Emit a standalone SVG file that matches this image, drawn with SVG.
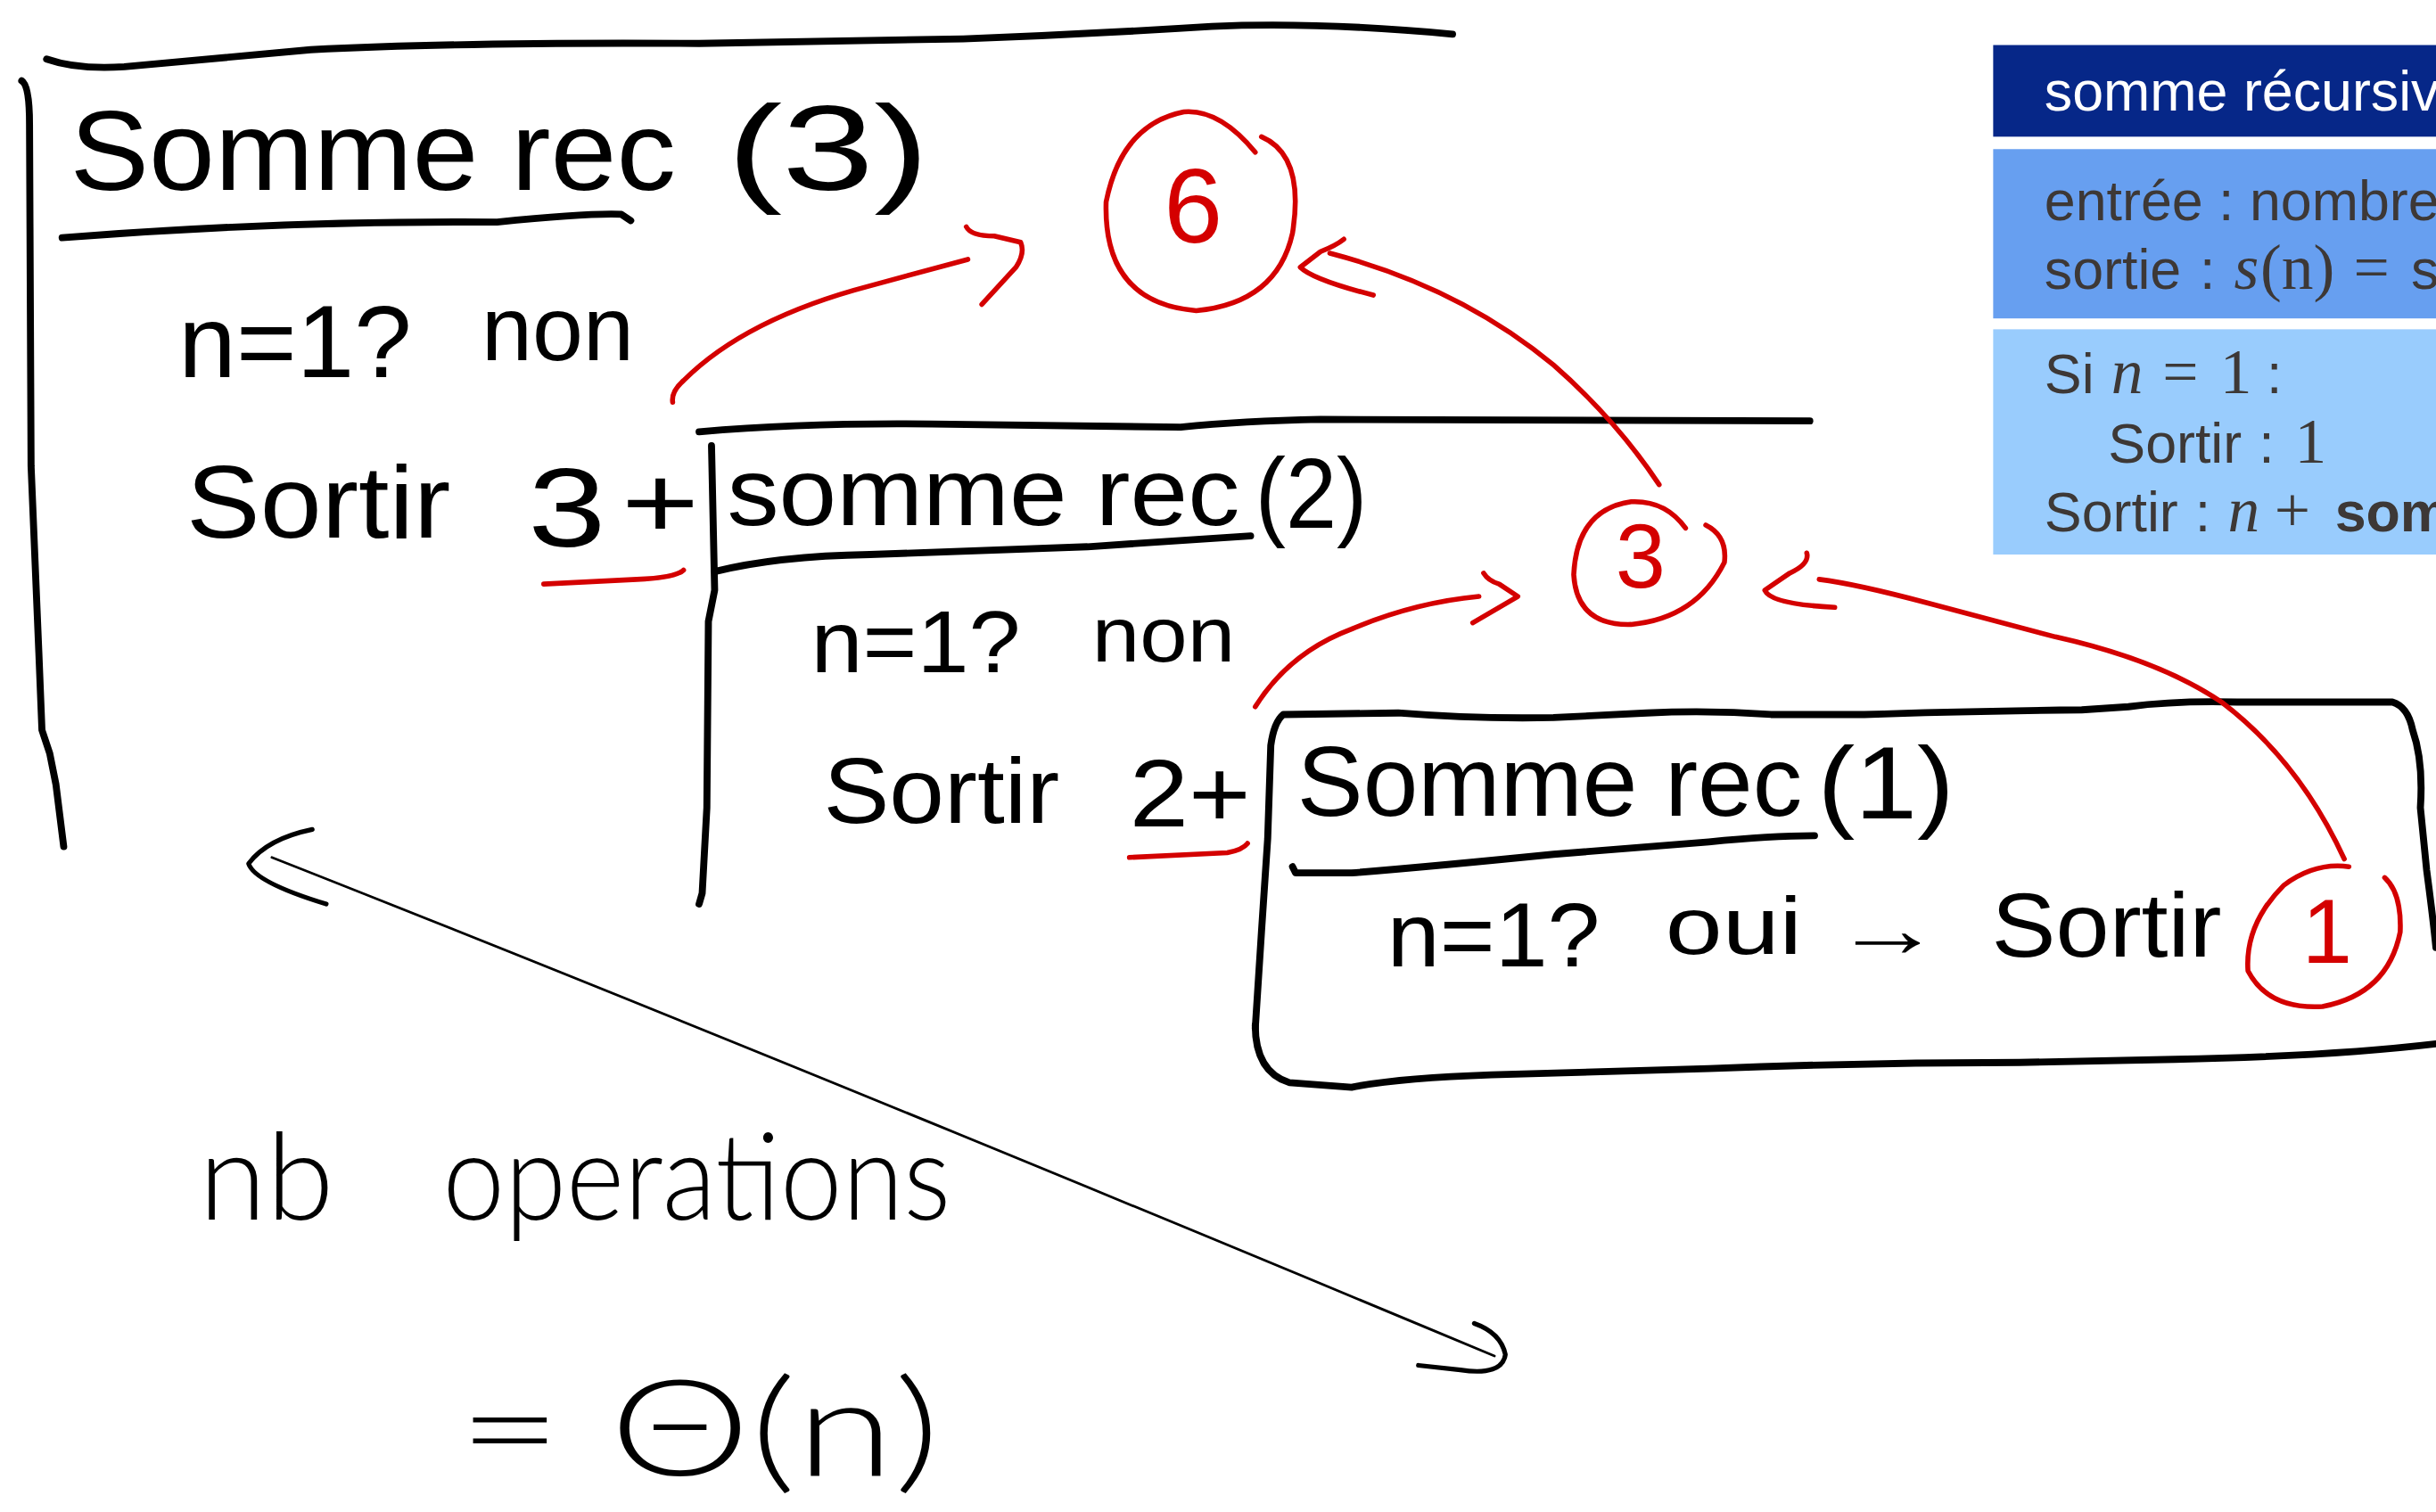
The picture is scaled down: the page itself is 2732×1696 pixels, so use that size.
<svg xmlns="http://www.w3.org/2000/svg" width="2732" height="1696" viewBox="0 0 2732 1696">
<style>
.ink{fill:none;stroke:#000;stroke-width:4.5;stroke-linecap:round;stroke-linejoin:round}
.red{fill:none;stroke:#D40000;stroke-width:3.2;stroke-linecap:round;stroke-linejoin:round}
.thin{fill:none;stroke:#000;stroke-width:1.4;stroke-linecap:round;stroke-linejoin:round}
.hw{font-family:"Liberation Sans","DejaVu Sans",sans-serif;fill:#000}
.hwl{font-family:"Lato","Open Sans",sans-serif;font-weight:300;fill:#000}
.hwr{font-family:"Liberation Sans","DejaVu Sans",sans-serif;fill:#D40000;text-anchor:middle}
.pt{font-family:"Liberation Sans",Arial,sans-serif;font-size:36px;fill:#3D3836}
.mi{font-family:"Liberation Serif","Times New Roman",serif;font-style:italic;font-size:41px}
.mr{font-family:"Liberation Serif","Times New Roman",serif;font-size:41px}
</style>
<rect width="2732" height="1696" fill="#fff"/>
<g transform="scale(1.7423)">
  <!-- right slide panel -->
  <g id="panel">
    <rect x="1283" y="29" width="300" height="59" fill="#062788"/>
    <text x="1316" y="71" class="pt" style="fill:#fff">somme récursiv</text>
    <rect x="1283" y="96" width="300" height="109" fill="#679FF0"/>
    <text x="1316" y="142" class="pt">entrée : nombre</text>
    <text y="186" class="pt"><tspan x="1316">sortie</tspan><tspan x="1416">:</tspan><tspan x="1438" class="mi">s</tspan><tspan x="1455" class="mr">(n)</tspan><tspan x="1515" class="mr">=</tspan><tspan x="1552">s</tspan></text>
    <rect x="1283" y="212" width="300" height="145" fill="#99CCFD"/>
    <text y="253" class="pt"><tspan x="1316">Si</tspan><tspan x="1359" class="mi">n</tspan><tspan x="1392" class="mr">=</tspan><tspan x="1429" class="mr">1</tspan><tspan x="1459">:</tspan></text>
    <text y="298" class="pt"><tspan x="1357">Sortir</tspan><tspan x="1454">:</tspan><tspan x="1477" class="mr">1</tspan></text>
    <text y="342" class="pt"><tspan x="1316">Sortir</tspan><tspan x="1413">:</tspan><tspan x="1434" class="mi">n</tspan><tspan x="1464" class="mr">+</tspan><tspan x="1503" font-weight="bold">som</tspan></text>
  </g>

  <!-- frame for somme rec(3) -->
  <g id="frame1">
    <path class="ink" d="M30,38 Q50,45 80,43 L200,32 Q300,27 450,28 L620,25 Q700,22 780,17 Q850,14 935,22"/>
    <path class="ink" d="M14,52 Q19,55 19,80 L20,300 L25,420 L27,470 L32,485 L36,505 L41,545"/>
    <path class="ink" d="M40,153 Q180,142 320,143 Q380,137 400,138 L406,142"/>
    <text class="hw" x="45" y="122" font-size="72" textLength="390" lengthAdjust="spacingAndGlyphs">Somme rec</text>
    <text class="hw" x="468" y="122" font-size="78" textLength="130" lengthAdjust="spacingAndGlyphs">(3)</text>
    <text class="hw" x="115" y="243" font-size="66" textLength="150" lengthAdjust="spacingAndGlyphs">n=1?</text>
    <text class="hw" x="310" y="232" font-size="58" textLength="98" lengthAdjust="spacingAndGlyphs">non</text>
    <text class="hw" x="120" y="346" font-size="66" textLength="170" lengthAdjust="spacingAndGlyphs">Sortir</text>
    <text class="hw" x="340" y="352" font-size="72" textLength="50" lengthAdjust="spacingAndGlyphs">3</text>
    <text class="hw" x="400" y="346" font-size="66" textLength="50" lengthAdjust="spacingAndGlyphs">+</text>
  </g>

  <!-- frame for somme rec(2) -->
  <g id="frame2">
    <path class="ink" d="M450,278 Q520,272 600,273 L760,275 Q800,271 850,270 L1165,271"/>
    <path class="ink" d="M458,287 L460,380 L456,400 L455,520 L452,575 L450,582"/>
    <path class="ink" d="M460,368 Q500,358 560,357 L700,352 L805,345"/>
    <text class="hw" x="468" y="338" font-size="62" textLength="330" lengthAdjust="spacingAndGlyphs">somme rec</text>
    <text class="hw" x="808" y="340" font-size="64" textLength="72" lengthAdjust="spacingAndGlyphs">(2)</text>
    <text class="hw" x="522" y="433" font-size="56" textLength="135" lengthAdjust="spacingAndGlyphs">n=1?</text>
    <text class="hw" x="703" y="426" font-size="50" textLength="92" lengthAdjust="spacingAndGlyphs">non</text>
    <text class="hw" x="530" y="530" font-size="60" textLength="152" lengthAdjust="spacingAndGlyphs">Sortir</text>
    <text class="hw" x="727" y="532" font-size="62" textLength="78" lengthAdjust="spacingAndGlyphs">2+</text>
  </g>

  <!-- frame for somme rec(1) -->
  <g id="frame3">
    <path class="ink" d="M808,662 L812,600 L816,540 L818,480 Q820,465 826,460 L900,459 Q950,463 1000,462 L1060,459 Q1100,457 1140,460 L1200,460 Q1260,458 1340,457 L1370,455 Q1400,451 1440,452 L1540,452 Q1550,455 1553,470 Q1560,490 1558,520 L1562,560 Q1566,590 1568,610"/>
    <path class="ink" d="M808,660 Q808,690 830,697 L870,700 Q900,694 960,692 L1100,688 Q1200,684 1300,684 L1400,682 Q1500,680 1568,672"/>
    <path class="ink" d="M832,558 L834,562 L870,562 Q920,558 1000,550 L1100,542 Q1140,538 1168,538"/>
    <text class="hw" x="835" y="525" font-size="64" textLength="325" lengthAdjust="spacingAndGlyphs">Somme rec</text>
    <text class="hw" x="1170" y="527" font-size="66" textLength="88" lengthAdjust="spacingAndGlyphs">(1)</text>
    <text class="hw" x="893" y="622" font-size="58" textLength="137" lengthAdjust="spacingAndGlyphs">n=1?</text>
    <text class="hw" x="1072" y="614" font-size="52" textLength="88" lengthAdjust="spacingAndGlyphs">oui</text>
    <text class="hw" x="1180" y="616" font-size="52" textLength="70" lengthAdjust="spacingAndGlyphs">→</text>
    <text class="hw" x="1282" y="616" font-size="58" textLength="148" lengthAdjust="spacingAndGlyphs">Sortir</text>
  </g>

  <!-- red results -->
  <g id="result6">
    <path class="red" d="M808,98 Q785,70 762,72 Q722,80 712,130 Q710,195 770,200 Q822,195 832,150 Q840,100 812,88"/>
    <text class="hwr" x="768" y="156" font-size="68">6</text>
  </g>
  <g id="result3">
    <path class="red" d="M1085,340 Q1072,322 1050,323 Q1015,328 1013,370 Q1015,403 1050,402 Q1092,398 1110,362 Q1112,345 1098,338"/>
    <text class="hwr" x="1056" y="378" font-size="58">3</text>
  </g>
  <g id="result1">
    <path class="red" d="M1512,558 Q1490,555 1470,570 Q1445,595 1447,625 Q1460,650 1495,648 Q1537,640 1545,600 Q1546,575 1535,565"/>
    <text class="hwr" x="1498" y="620" font-size="58">1</text>
  </g>

  <!-- connectors -->
  <g id="connectors">
    <path class="red" d="M350,376 L410,373 Q435,372 440,367"/>
    <path class="red" d="M727,552 L790,549 Q800,547 803,543"/>
    <path class="red" d="M433,259 Q432,252 440,245 Q480,205 560,184 L623,167"/>
    <path class="red" d="M622,146 Q625,152 640,152 L657,156 Q660,163 654,172 L632,196"/>
    <path class="red" d="M1068,312 Q1040,270 1000,235 Q940,185 856,163"/>
    <path class="red" d="M865,154 Q860,158 850,162 L837,172 Q845,180 884,190"/>
    <path class="red" d="M808,455 Q830,420 870,405 Q910,388 952,384"/>
    <path class="red" d="M955,369 Q958,374 965,376 L977,384 L948,401"/>
    <path class="red" d="M1509,553 Q1480,490 1430,452 Q1390,425 1323,410 L1240,388 Q1195,376 1171,373"/>
    <path class="red" d="M1163,356 Q1165,363 1152,369 L1136,380 Q1140,389 1181,391"/>
    <!-- black double-headed arrow -->
    <path class="thin" d="M175,552 Q500,680 962,873" style="stroke-width:1.6"/>
    <path class="ink" style="stroke-width:3" d="M201,534 Q172,540 160,556 Q164,568 210,582"/>
    <path class="ink" style="stroke-width:3" d="M949,852 Q966,858 969,872 Q967,886 940,882 L913,879"/>
  </g>

  <!-- complexity -->
  <g id="complexity">
    <text class="hwl" x="128" y="785" font-size="78" textLength="87" lengthAdjust="spacingAndGlyphs">nb</text>
    <text class="hwl" x="285" y="785" font-size="78" textLength="327" lengthAdjust="spacingAndGlyphs">operations</text>
    <text class="hwl" x="295" y="950" font-size="86" textLength="310" lengthAdjust="spacingAndGlyphs">= Θ(n)</text>
  </g>
</g>
</svg>
